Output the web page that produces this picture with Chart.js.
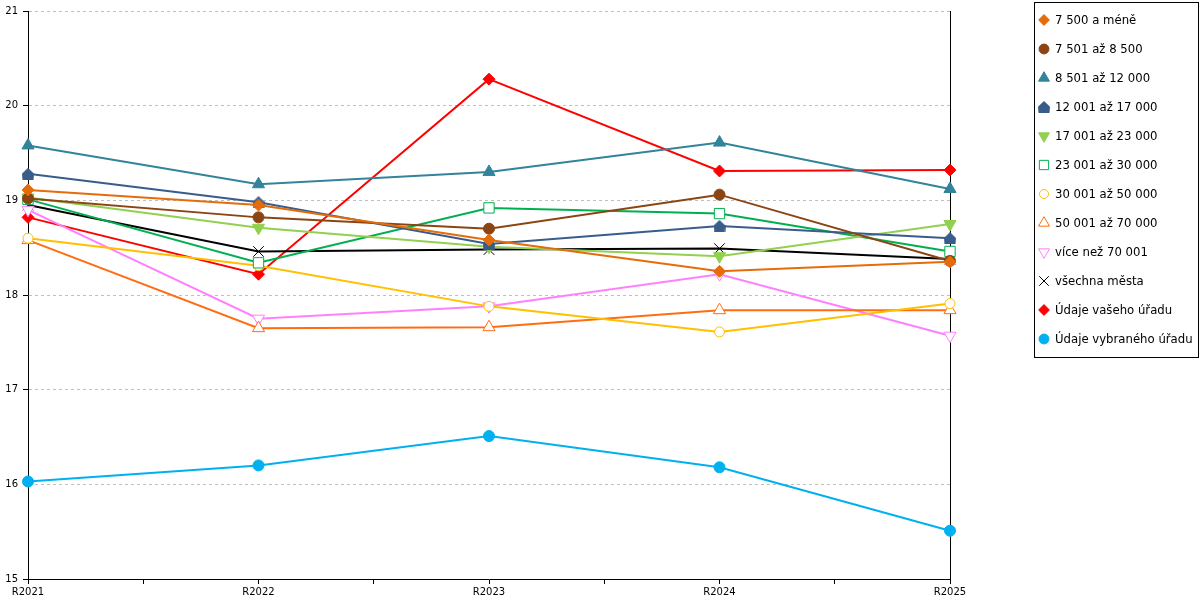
<!DOCTYPE html>
<html>
<head>
<meta charset="utf-8">
<script src="https://cdn.jsdelivr.net/npm/chart.js@4.4.1/dist/chart.umd.min.js"></script>
<style>
  body { margin: 0; background: #fff; }
  #wrap { width: 1200px; height: 600px; }
</style>
</head>
<body>
<div id="wrap"><canvas id="chart" width="1200" height="600"></canvas></div>
<script>
// hodnoty
const roky = ['R2021', 'R2022', 'R2023', 'R2024', 'R2025'];
const yTicks = [15, 16, 17, 18, 19, 20, 21];

const do7500 = [19.11, 18.95, 18.58, 18.25, 18.35];
const do8500 = [19.02, 18.82, 18.70, 19.06, 18.36];
const do12000 = [19.58, 19.17, 19.30, 19.61, 19.12];
const do17000 = [19.28, 18.98, 18.54, 18.73, 18.60];
const do23000 = [19.03, 18.71, 18.51, 18.41, 18.75];
const do30000 = [19.01, 18.34, 18.92, 18.86, 18.46];
const do50000 = [18.60, 18.31, 17.88, 17.61, 17.91];
const do70000 = [18.58, 17.65, 17.66, 17.84, 17.84];
const nad70000 = [18.90, 17.75, 17.88, 18.22, 17.57];
const vsechnaMesta = [18.95, 18.46, 18.48, 18.49, 18.38];
const vasUrad = [18.82, 18.22, 20.28, 19.31, 19.32];
const vybranyUrad = [16.03, 16.20, 16.51, 16.18, 15.51];

// znacka "domecek" pro 12 001 az 17 000
function houseMarker(color, size) {
    const c = document.createElement('canvas');
    c.width = size; c.height = size;
    const g = c.getContext('2d');
    g.fillStyle = color;
    g.beginPath();
    g.moveTo(size / 2, 0);
    g.lineTo(size, size * 0.48);
    g.lineTo(size - 0.5, size);
    g.lineTo(0.5, size);
    g.lineTo(0, size * 0.48);
    g.closePath();
    g.fill();
    return c;
}

function serie(label, values, color, style, opts) {
    opts = opts || {};
    return {
        label: label,
        data: values.map((v, i) => ({ x: i, y: v })),
        borderColor: color,
        backgroundColor: color,
        borderWidth: 2,
        tension: 0,
        clip: false,
        pointStyle: style,
        pointRadius: opts.r || 5.5,
        pointHoverRadius: opts.r || 5.5,
        pointRotation: opts.rot || 0,
        pointBorderColor: color,
        pointBackgroundColor: opts.hollow ? '#ffffff' : color,
        pointBorderWidth: 1
    };
}

const datasets = [
    serie('7 500 a méně', do7500, '#E46C0A', 'rectRot', { r: 6 }),
    serie('7 501 až 8 500', do8500, '#8B4513', 'circle', { r: 5.5 }),
    serie('8 501 až 12 000', do12000, '#31849B', 'triangle', { r: 7 }),
    serie('12 001 až 17 000', do17000, '#385D8A', houseMarker('#385D8A', 12)),
    serie('17 001 až 23 000', do23000, '#92D050', 'triangle', { r: 7, rot: 180 }),
    serie('23 001 až 30 000', do30000, '#00B050', 'rect', { r: 7.3, hollow: true }),
    serie('30 001 až 50 000', do50000, '#FFC000', 'circle', { r: 5, hollow: true }),
    serie('50 001 až 70 000', do70000, '#FF6D12', 'triangle', { r: 7, hollow: true }),
    serie('více než 70 001', nad70000, '#FF80FF', 'triangle', { r: 7, rot: 180, hollow: true }),
    serie('všechna města', vsechnaMesta, '#000000', 'crossRot', { r: 7.5 }),
    serie('Údaje vašeho úřadu', vasUrad, '#FF0000', 'rectRot', { r: 6 }),
    serie('Údaje vybraného úřadu', vybranyUrad, '#00B0F0', 'circle', { r: 5.5 })
];

// prava svisla cara a legenda s rameckem
const ramecek = {
    id: 'ramecek',
    beforeDatasetsDraw(chart) {
        const { ctx, chartArea } = chart;
        ctx.save();
        ctx.strokeStyle = '#000';
        ctx.lineWidth = 1;
        ctx.beginPath();
        ctx.moveTo(Math.round(chartArea.right) + 0.5, chartArea.top);
        ctx.lineTo(Math.round(chartArea.right) + 0.5, chartArea.bottom);
        ctx.stroke();
        ctx.restore();
    },
    afterDraw(chart) {
        const { ctx } = chart;
        ctx.save();
        // legenda
        const lx = 1034.5, ly = 2.5, lw = 164, lh = 355;
        ctx.strokeStyle = '#000';
        ctx.lineWidth = 1;
        ctx.strokeRect(lx, ly, lw, lh);
        ctx.font = '11.7px "DejaVu Sans"';
        ctx.textBaseline = 'middle';
        ctx.textAlign = 'left';
        chart.data.datasets.forEach((ds, i) => {
            const y = 20 + i * 29;
            ctx.fillStyle = ds.pointBackgroundColor;
            ctx.strokeStyle = ds.pointBorderColor;
            ctx.lineWidth = 1;
            Chart.helpers.drawPoint(ctx, {
                pointStyle: ds.pointStyle,
                radius: ds.pointRadius * 0.9,
                rotation: ds.pointRotation,
                borderWidth: 1
            }, 1044, y);
            ctx.fillStyle = '#000';
            ctx.fillText(ds.label, 1055, y + 0.5);
        });
        ctx.restore();
    }
};

new Chart(document.getElementById('chart'), {
    type: 'line',
    data: { datasets: datasets },
    options: {
        responsive: false,
        animation: false,
        devicePixelRatio: 1,
        layout: { padding: { top: 10, right: 250, left: 0, bottom: 0 } },
        plugins: {
            legend: { display: false },
            tooltip: { enabled: false }
        },
        scales: {
            x: {
                type: 'linear',
                min: 0,
                max: roky.length - 1,
                grid: {
                    drawOnChartArea: false,
                    tickColor: '#000',
                    tickLength: 5
                },
                border: { color: '#000', width: 1 },
                ticks: {
                    stepSize: 0.5,
                    autoSkip: false,
                    maxRotation: 0,
                    padding: 2,
                    color: '#000',
                    font: { family: 'DejaVu Sans', size: 10 },
                    callback: v => Number.isInteger(v) ? roky[v] : ''
                }
            },
            y: {
                min: yTicks[0],
                max: yTicks[yTicks.length - 1],
                afterFit: scale => { scale.width = 28; },
                grid: {
                    color: '#BFBFBF',
                    tickColor: '#000',
                    tickLength: 5
                },
                border: { color: '#000', width: 1, dash: [3, 3] },
                ticks: {
                    stepSize: 1,
                    padding: 5,
                    color: '#000',
                    font: { family: 'DejaVu Sans', size: 10 }
                }
            }
        }
    },
    plugins: [ramecek]
});
</script>
</body>
</html>
